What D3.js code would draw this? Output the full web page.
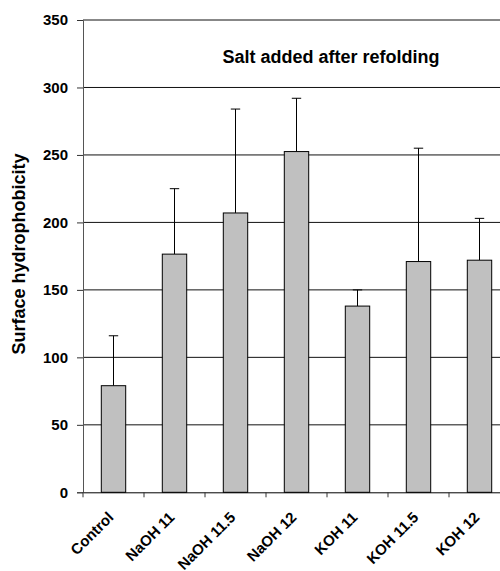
<!DOCTYPE html>
<html lang="en">
<head>
  <meta charset="UTF-8">
  <title>Surface hydrophobicity</title>
  <script src="https://d3js.org/d3.v7.min.js"></script>
  <style>
    body { margin: 0; background: #fff; }
    text { font-family: Arial, "Liberation Sans", sans-serif; font-weight: bold; fill: #000; }
  </style>
</head>
<body>
  <svg id="chart" width="500" height="571"></svg>
  <script>
    // Data
    const categories = ['Control', 'NaOH 11', 'NaOH 11.5', 'NaOH 12', 'KOH 11', 'KOH 11.5', 'KOH 12'];
    const values = [79, 176.5, 207, 252.5, 138, 171, 172];
    const errorTops = [116, 225, 284, 292, 150, 255, 203];
    const yTicks = [0, 50, 100, 150, 200, 250, 300, 350];

    const svg = d3.select('#chart');
    const plotLeft = 83, plotRight = 510, plotTop = 20, plotBottom = 492.3;

    const x = d3.scaleBand().domain(categories).range([plotLeft, plotRight]);
    const y = d3.scaleLinear().domain([0, 350]).range([plotBottom, plotTop]);

    // gridlines
    svg.append('g').selectAll('line')
      .data(yTicks.filter(d => d > 0))
      .enter().append('line')
      .attr('x1', plotLeft).attr('x2', plotRight)
      .attr('y1', d => y(d)).attr('y2', d => y(d))
      .attr('stroke', '#111').attr('stroke-width', 1);

    // y axis
    const yAxis = d3.axisLeft(y).tickValues(yTicks).tickSize(6).tickPadding(9);
    const gy = svg.append('g').attr('transform', `translate(${plotLeft},0)`).call(yAxis);
    gy.select('.domain').attr('stroke', '#555');
    gy.selectAll('.tick line').attr('stroke', '#333');
    gy.selectAll('text').style('font-size', '15px').attr('fill', '#000');

    // error bars
    const cap = 4.7;
    const eb = svg.append('g');
    categories.forEach((c, i) => {
      const cx = x(c) + x.bandwidth() / 2;
      eb.append('line')
        .attr('x1', cx).attr('x2', cx)
        .attr('y1', y(values[i])).attr('y2', y(errorTops[i]))
        .attr('stroke', '#000').attr('stroke-width', 1);
      eb.append('line')
        .attr('x1', cx - cap).attr('x2', cx + cap)
        .attr('y1', y(errorTops[i])).attr('y2', y(errorTops[i]))
        .attr('stroke', '#000').attr('stroke-width', 1);
    });

    // bars
    const barW = x.bandwidth() * 0.4;
    svg.append('g').selectAll('rect')
      .data(categories)
      .enter().append('rect')
      .attr('x', d => x(d) + (x.bandwidth() - barW) / 2)
      .attr('y', (d, i) => y(values[i]))
      .attr('width', barW)
      .attr('height', (d, i) => plotBottom - y(values[i]))
      .attr('fill', '#c0c0c0')
      .attr('stroke', '#000')
      .attr('stroke-width', 1);

    // x axis
    const xAxis = d3.axisBottom(x).tickSize(0).tickFormat('');
    const gx = svg.append('g').attr('transform', `translate(0,${plotBottom})`).call(xAxis);
    gx.select('.domain').attr('stroke', '#000');
    gx.selectAll('.tick').remove();
    gx.selectAll('.bound')
      .data(categories)
      .enter().append('line')
      .attr('x1', d => x(d)).attr('x2', d => x(d))
      .attr('y1', 0).attr('y2', 5)
      .attr('stroke', '#333');

    svg.append('g').selectAll('text')
      .data(categories)
      .enter().append('text')
      .attr('text-anchor', 'end')
      .style('font-size', '15px')
      .attr('transform', d => `translate(${x(d) + x.bandwidth() / 2 + 1},${plotBottom + 26}) rotate(-45)`)
      .text(d => d);

    // titles
    svg.append('text')
      .attr('x', 331).attr('y', 63)
      .attr('text-anchor', 'middle')
      .style('font-size', '18px')
      .text('Salt added after refolding');

    svg.append('text')
      .attr('transform', 'translate(25,254) rotate(-90)')
      .attr('text-anchor', 'middle')
      .style('font-size', '18px')
      .text('Surface hydrophobicity');
  </script>
</body>
</html>
